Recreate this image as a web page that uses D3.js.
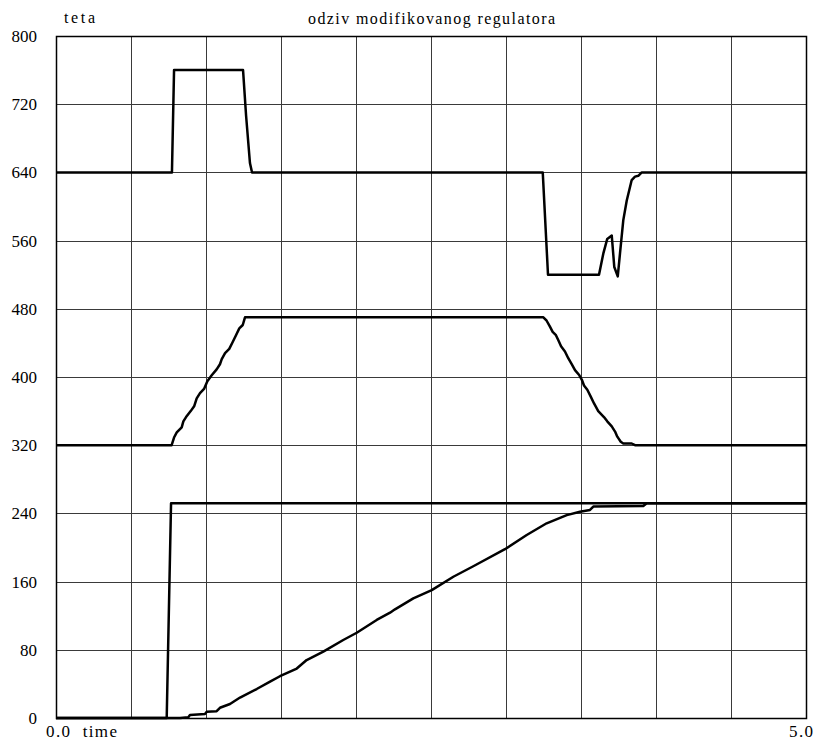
<!DOCTYPE html>
<html>
<head>
<meta charset="utf-8">
<script src="https://cdn.jsdelivr.net/npm/d3@7"></script>
<style>
  body { margin: 0; background: #fff; }
  text { font-family: "Liberation Serif", "DejaVu Serif", serif; fill: #000; }
</style>
</head>
<body>
<svg id="chart" width="815" height="740"></svg>
<script>
// time axis ticks (only ends labelled) and value ticks
var timeTicks = [0, 0.5, 1, 1.5, 2, 2.5, 3, 3.5, 4, 4.5, 5];
var valueTicks = [0, 80, 160, 240, 320, 400, 480, 560, 640, 720, 800];

// upper trace (640 base, disturbance up then down)
var topT = [0, 0.773, 0.787, 1.247, 1.267, 1.293, 1.307, 3.245, 3.28, 3.62, 3.649, 3.675, 3.705, 3.722, 3.745, 3.76, 3.782, 3.805, 3.838, 3.86, 3.882, 3.905, 5];
var topV = [640, 640, 760, 760, 707, 651, 640, 640, 520, 520, 545, 562, 566, 529, 518, 545, 584, 607, 631, 635, 636, 640, 640];

// middle trace (320 -> 470 -> 320)
var midT = [0, 0.771, 0.787, 0.805, 0.838, 0.849, 0.867, 0.898, 0.922, 0.938, 0.96, 0.987, 1.009, 1.038, 1.071, 1.093, 1.105, 1.127, 1.155, 1.178, 1.2, 1.222, 1.245, 1.26,
  3.249, 3.271, 3.293, 3.311, 3.333, 3.349, 3.367, 3.393, 3.415, 3.438, 3.46, 3.489, 3.505, 3.52, 3.542, 3.565, 3.587, 3.615, 3.653, 3.675, 3.705, 3.727, 3.742, 3.765, 3.782, 3.838, 3.86, 5];
var midV = [320, 320, 329, 335, 341, 348, 353, 360, 366, 375, 381, 386, 395, 402, 409, 415, 421, 428, 433, 441, 449, 457, 461, 470,
  470, 466, 459, 453, 449, 443, 436, 430, 422, 415, 408, 402, 397, 390, 385, 377, 369, 360, 353, 348, 342, 336, 330, 324, 322, 322, 320, 320];

// reference step
var stepT = [0, 0.738, 0.767, 5];
var stepV = [0, 0, 252, 252];

// lower trace (slow ramp)
var rampT = [0, 0.827, 0.882, 0.893, 0.993, 1.005, 1.071, 1.093, 1.16, 1.227, 1.338, 1.427, 1.493, 1.605, 1.671, 1.782, 1.915, 2.005, 2.138, 2.227, 2.26, 2.382, 2.505, 2.649, 2.782, 2.993, 3.138, 3.271, 3.405, 3.493, 3.56, 3.582, 3.915, 3.938, 5];
var rampV = [0, 0, 1, 3.5, 4.7, 7.4, 8, 12, 16.4, 24, 34, 42.6, 49, 58, 68, 77.8, 91.5, 100, 115, 123.5, 127.5, 140.4, 150, 165.7, 178, 198, 214.7, 228.4, 238, 242, 244, 248, 248.6, 252, 252];

var svg = d3.select("#chart"),
    pLeft = 56, pRight = 806, pTop = 36, pBottom = 718;

var x = d3.scaleLinear().domain([0, 5]).range([pLeft, pRight]);
var y = d3.scaleLinear().domain([0, 800]).range([pBottom, pTop]);

// grid
svg.append("g").selectAll("line")
    .data(timeTicks.slice(1, -1))
    .enter().append("line")
    .attr("x1", function (d) { return Math.round(x(d)) + 0.5; })
    .attr("x2", function (d) { return Math.round(x(d)) + 0.5; })
    .attr("y1", pTop).attr("y2", pBottom)
    .attr("stroke", "#3a3a3a").attr("stroke-width", 1);

svg.append("g").selectAll("line")
    .data(valueTicks.slice(1, -1))
    .enter().append("line")
    .attr("y1", function (d) { return Math.round(y(d)) + 0.5; })
    .attr("y2", function (d) { return Math.round(y(d)) + 0.5; })
    .attr("x1", pLeft).attr("x2", pRight)
    .attr("stroke", "#3a3a3a").attr("stroke-width", 1);

// frame
svg.append("rect")
    .attr("x", pLeft + 0.5).attr("y", pTop + 0.5)
    .attr("width", pRight - pLeft).attr("height", pBottom - pTop)
    .attr("fill", "none").attr("stroke", "#000").attr("stroke-width", 1.5);

// y axis labels
svg.append("g").selectAll("text")
    .data(valueTicks)
    .enter().append("text")
    .attr("x", 37)
    .attr("y", function (d) { return y(d) + 6; })
    .attr("text-anchor", "end")
    .style("font-size", "17px")
    .text(function (d) { return d; });

svg.append("text").attr("x", 64).attr("y", 23).style("font-size", "16px")
    .attr("textLength", 31).attr("lengthAdjust", "spacing").text("teta");
svg.append("text").attr("x", 308).attr("y", 24).style("font-size", "16px")
    .attr("textLength", 247).attr("lengthAdjust", "spacing").text("odziv modifikovanog regulatora");
svg.append("text").attr("x", 46).attr("y", 737).style("font-size", "17px")
    .attr("xml:space", "preserve")
    .attr("textLength", 71).attr("lengthAdjust", "spacing").text("0.0  time");
svg.append("text").attr("x", 789).attr("y", 737).style("font-size", "17px")
    .attr("textLength", 24).attr("lengthAdjust", "spacing").text("5.0");

// traces
var line = d3.line()
    .x(function (d) { return x(d[0]); })
    .y(function (d) { return y(d[1]); });

var series = [[topT, topV], [midT, midV], [stepT, stepV], [rampT, rampV]];
svg.append("g").selectAll("path")
    .data(series)
    .enter().append("path")
    .attr("d", function (s) { return line(d3.zip(s[0], s[1])); })
    .attr("fill", "none")
    .attr("stroke", "#000")
    .attr("stroke-width", 2.5)
    .attr("stroke-linejoin", "round");
</script>
</body>
</html>
